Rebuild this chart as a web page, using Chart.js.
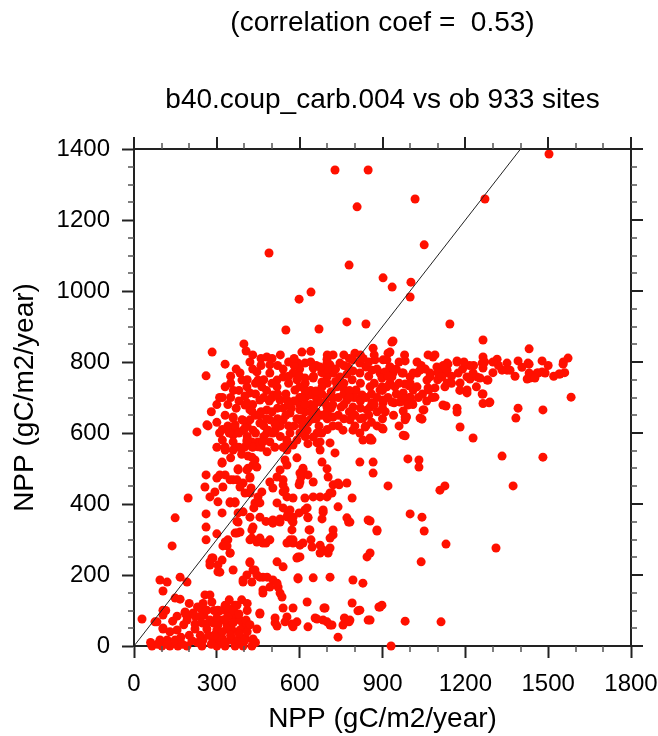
<!DOCTYPE html>
<html>
<head>
<meta charset="utf-8">
<script src="https://cdn.jsdelivr.net/npm/chart.js@4.4.1/dist/chart.umd.min.js"></script>
<style>
    html, body { margin: 0; padding: 0; background: #fff; }
    #wrap { width: 658px; height: 736px; position: relative; }
</style>
</head>
<body>
<div id="wrap"><canvas id="npp-chart"></canvas></div>
<script>
const chartTitle = '(correlation coef =  0.53)';
const chartSubtitle = 'b40.coup_carb.004 vs ob 933 sites';
const axisTitle = 'NPP (gC/m2/year)';

const xRange = [0, 1800];
const yRange = [0, 1400];
const xMajorStep = 300, xMinorStep = 100;
const yMajorStep = 200, yMinorStep = 50;
const oneToOne = [0, 1400];

// [obs NPP, model NPP] per site
const sitePoints = [
    // outliers up top
    [728,1341],[848,1341],[808,1237],[489,1107],[779,1073],[902,1037],[935,1011],[1003,1025],[1000,983],
    [598,977],[641,997],[550,890],[670,893],[771,913],[840,907],[1503,1386],[1018,1259],[1271,1259],
    [1051,1130],[1144,907],
    // upper edge
    [398,851],[406,831],[283,828],[330,794],[261,761],[420,800],[608,828],[721,820],[800,825],[866,839],
    [934,856],[927,828],[1264,862],[1431,837],[1572,811],[1554,794],[938,859],[481,814],[492,792],[594,797],[619,797],
    // right band
    [1315,808],[1351,797],[1391,803],[1478,803],[1478,772],[1543,766],[1427,797],[1431,769],[1460,769],[1583,701],
    [1264,814],[1264,783],[1279,749],[1206,758],[1170,803],[1137,794],[1126,769],[1174,769],[1181,741],[1206,721],
    [1217,752],[1242,758],[1351,777],[1333,777],[1424,752],[1434,755],[1065,820],[1083,814],[1025,800],[982,803],
    [1097,786],[1072,769],[1108,769],[1061,749],[1025,769],[1011,727],[1065,727],[1090,727],[1000,758],[975,769],
    [927,786],[938,769],[927,741],[891,769],[898,730],[902,806],[920,825],[873,806],[975,713],[1000,701],
    [1362,777],[1431,794],[1463,769],[1489,769],[1452,755],[1539,766],[1481,665],[1391,670],[1383,642],[1261,797],
    [1228,769],[1282,749],[1253,755],[1134,741],[1134,777],[1170,800],[1134,797],[1261,710],[1289,687],[1130,676],
    [1170,670],[1170,659],[1181,617],[1228,586],[1333,535],[1481,532],[1373,451],[1311,276],[1286,685],[1264,710],
    [1206,713],[1090,701],[1050,665],[1043,639],[982,637],[982,592],[902,611],[862,580],[866,518],[866,487],
    [992,527],[1032,524],[1032,504],[920,451],[1108,439],[1126,451],[1000,372],[1043,363],[1051,324],[855,352],
    [880,324],[1130,287],[1040,237],[898,115],[887,110],[855,73],[982,70],[1112,68],[931,0],[855,262],
    [1011,721],[942,685],[902,685],[989,685],[1007,685],[975,662],[987,645],[855,673],
    [1040,790],[1055,780],[1120,790],[1150,760],[1190,780],[1230,790],[1300,770],[1320,790],[1380,760],[1405,785],
    [1500,790],[1520,760],[1560,770],[1180,720],[1100,750],[1150,740],[1240,730],[1270,800],[1300,800],[1215,790],
    [1195,800],[1555,800],[1264,683],[960,620],[940,650],[920,700],[950,710],[910,660],[1060,690],[1080,700],
    [1030,700],[1045,710],
    // centre blob
    [916,806],[927,786],[909,772],[898,755],[934,758],[916,730],[945,730],[891,721],[902,693],[934,687],
    [971,769],[1011,769],[1036,777],[1090,820],[1072,758],[1101,769],[1115,758],[1068,721],[1126,730],[1025,730],
    [996,733],[982,738],[1000,699],[963,687],[992,679],[1047,665],[1036,642],[982,645],[975,594],[898,614],
    [1119,679],[855,730],[826,707],[862,685],[844,665],[829,642],[837,617],[855,586],[793,608],[782,637],
    [757,608],[721,645],[793,673],[793,701],[771,693],[757,727],[735,730],[714,716],[692,685],[714,670],
    [750,673],[804,721],[818,769],[793,775],[771,766],[746,758],[721,769],[699,758],[710,792],[746,797],
    [775,786],[793,806],[818,797],[840,786],[862,777],[699,808],[688,780],
    [620,700],[640,720],[660,700],[680,710],[700,700],[720,700],[740,700],[760,710],[780,720],[800,700],
    [820,690],[840,700],[860,710],[880,700],[620,660],[640,680],[660,660],[680,650],[700,640],[720,620],
    [740,650],[760,640],[780,660],[800,650],[820,670],[850,650],[880,660],[900,640],[630,630],[650,640],
    [670,620],[700,610],[610,640],[600,680],[620,740],[650,760],[680,770],[700,740],[730,745],[760,740],
    [790,750],[820,740],[850,760],[870,740],[880,780],[850,800],[820,820],[780,810],[760,790],[730,780],
    [700,780],[660,790],[640,800],[600,780],[580,790],[560,800],[540,780],[520,790],[500,810],[460,790],[430,780],
    [600,700],[620,720],[640,660],[660,640],[680,600],[700,660],[720,680],[740,620],[760,680],[780,700],
    [800,620],[820,640],[840,620],[860,630],[870,680],[880,620],[900,670],[900,720],[920,760],[950,780],
    [960,740],[970,700],[1000,740],[1010,680],[960,800],[980,820],[870,820],[830,810],[760,820],[700,820],
    [640,830],[580,810],[530,820],[430,820],[460,810],
    // upper-left cluster
    [649,783],[674,786],[699,797],[384,769],[391,749],[445,772],[449,749],[492,769],[518,749],[540,758],
    [576,769],[619,755],[649,755],[681,744],[409,730],[420,713],[463,730],[518,730],[503,707],[529,693],
    [456,693],[402,704],[402,679],[420,665],[481,665],[554,693],[583,721],[608,701],[637,707],[659,718],
    [681,730],[674,687],[652,679],[699,673],[688,651],[601,665],[565,656],[540,637],[492,637],[456,628],
    [420,637],[391,637],[359,645],[366,614],[395,608],[431,608],[481,600],[511,608],[359,594],[359,575],
    [330,561],[420,575],[449,575],[492,575],[554,580],[565,600],[601,600],[627,608],[637,637],[601,637],
    [663,600],[663,572],[264,623],
    [470,750],[500,740],[440,740],[560,740],[590,750],[600,730],[550,710],[520,670],[460,660],[440,650],
    [500,700],[580,690],[620,680],[590,640],[560,620],[530,620],[470,620],[440,600],[410,590],[380,600],
    [400,560],[470,590],[530,590],[590,580],[620,590],[630,570],[540,560],[510,560],[580,620],[610,620],
    [650,650],[570,670],[540,670],[490,690],[430,680],[380,690],[380,720],[350,700],[370,670],[340,620],
    [310,600],[300,630],[330,650],[350,740],[370,780],[330,730],[310,700],[300,680],[280,660],[320,580],
    [350,530],[390,540],
    [300,560],[320,610],[345,600],[380,560],[410,620],[430,560],[460,560],[480,640],[500,660],[520,640],
    [550,650],[560,680],[470,700],[440,710],[410,750],[360,720],[340,680],[320,700],[350,760],[480,720],
    [520,710],[560,760],[600,760],[620,720],
    [228,603],[268,620],[359,642],[366,623],[402,614],[395,636],[409,580],[427,575],[449,561],[482,547],
    [467,575],[486,608],[503,600],[511,625],[409,685],[427,662],[456,651],[554,572],[576,566],[554,552],
    [649,589],[674,552],[818,600],[829,580],[855,580],[359,552],[330,552],[319,518],
    // middle band
    [261,482],[257,448],[275,420],[293,434],[304,406],[261,372],[261,335],[261,299],[319,515],[330,555],
    [300,473],[330,482],[348,468],[377,496],[413,501],[438,524],[413,535],[427,561],[409,575],[420,476],
    [395,459],[359,468],[348,406],[366,406],[402,431],[424,445],[438,403],[395,378],[319,375],[377,349],
    [384,321],[366,318],[427,327],[420,299],[340,299],[322,282],[275,237],[282,248],[300,316],[330,293],
    [337,282],[311,208],[319,242],[359,214],[348,262],[373,318],[373,351],[377,375],[366,403],[348,403],
    [322,448],[311,482],[373,468],[384,448],[377,499],[409,496],[420,473],[427,532],[431,510],[420,431],
    [449,420],[456,403],[434,389],[420,363],[431,335],[427,304],[445,293],[467,290],[478,290],[420,237],
    [431,214],[409,200],[395,180],[427,180],[456,194],[467,158],[554,510],[547,524],[529,496],[518,476],
    [540,454],[547,440],[554,420],[503,445],[492,462],[518,403],[540,389],[558,375],[576,363],[598,375],
    [576,349],[529,358],[503,346],[478,351],[565,299],[576,290],[554,290],[601,284],[612,290],[645,279],
    [674,284],[685,270],[710,276],[710,304],[721,313],[674,262],[703,262],[601,251],[594,251],[594,192],
    [649,192],[710,194],[793,186],[829,177],[844,251],[848,355],[880,327],[771,361],[782,349],[739,392],
    [699,420],[674,420],[649,420],[619,417],[627,389],[630,361],[634,327],[685,383],[710,431],[721,454],
    [743,454],[771,459],[703,476],[699,499],[681,518],[612,496],[605,476],[598,454],[818,518],[630,482],
    [649,462],[739,459],[717,431],[790,417],[576,417],[601,487],[612,501],[601,462],[590,530],[728,544],
    [674,575],[710,572],[445,504],[540,468],[540,434],[565,383],[554,364],[571,355],[572,327],[619,383],
    [630,363],[685,377],[681,358],[777,349],[721,327],[637,327],[641,299],[576,299],[492,299],[456,304],
    [503,355],[456,363],[529,349],[463,434],[138,282],[149,361],[196,417],
    // lower part
    [29,76],[83,68],[105,87],[105,51],[94,186],[120,180],[105,155],[167,194],[192,180],[149,135],
    [167,132],[156,45],[185,96],[192,84],[214,93],[221,84],[246,101],[253,87],[275,73],[261,62],
    [221,62],[257,144],[275,144],[282,124],[304,101],[330,115],[366,115],[337,96],[366,84],[391,68],
    [395,54],[337,59],[304,59],[319,22],[359,17],[402,22],[445,48],[456,90],[467,149],[503,186],
    [522,166],[529,149],[540,107],[511,79],[511,65],[554,82],[576,107],[590,68],[572,62],[627,124],
    [630,54],[594,189],[656,79],[692,107],[699,68],[717,59],[739,25],[757,59],[762,79],[779,68],
    [790,121],[818,101],[848,73],[891,110],[275,228],[286,248],[304,228],[304,209],[348,262],[395,186],
    [420,234],[438,214],[467,194],[518,237],[540,223],[590,248],[492,166],[445,200],[518,177],[482,194],
    [536,138],[576,54],[547,68],[518,56],[663,76],[685,73],[710,59],[688,107],[782,73],[811,99],
    [65,0],[101,0],[130,0],[159,0],[192,0],[246,0],[300,0],[330,0],[366,0],[395,0],
    [427,0],[94,17],[120,17],[149,17],[250,17],[286,17],[311,17],[348,17],[377,17],[402,17],
    [431,17],[76,68],[105,101],[105,48],[156,84],[185,93],[192,73],[239,82],[246,65],[264,101],
    [221,48],[264,48],[286,65],[300,45],[311,25],[337,110],[373,115],[366,93],[340,82],[311,99],
    [322,73],[359,65],[384,73],[355,45],[337,48],[384,45],[406,73],[431,20],[456,93],
    [290,30],[320,40],[350,30],[380,35],[410,40],[270,30],[240,30],[200,30],[170,25],[230,110],
    [300,80],[330,75],[360,100],[380,90],[410,100],[420,60],[290,100],[250,120],[200,120],[180,60],
    [140,70],[130,40],[115,100],[345,130],[390,130],[410,120],[230,10],[210,15],[440,10],[330,10],
    [280,5],[120,5],[85,5],[60,10],[175,5]
];

const axisFont = { family: "'Liberation Sans', Arial, sans-serif", size: 24 };
const titleFont = "28px 'Liberation Sans', Arial, sans-serif";

// minor ticks + mirrored ticks on top/right, NCL style frame
const frameTicks = {
    id: 'frameTicks',
    afterDraw(chart) {
        const { ctx, chartArea: a, scales: { x, y } } = chart;
        ctx.save();
        ctx.strokeStyle = '#222';
        ctx.lineWidth = 2;
        ctx.beginPath();
        ctx.moveTo(a.left, a.top);
        ctx.lineTo(a.right, a.top);
        ctx.lineTo(a.right, a.bottom);
        ctx.stroke();

        for (let v = xRange[0]; v <= xRange[1]; v += xMinorStep) {
            const px = Math.round(x.getPixelForValue(v));
            const major = v % xMajorStep === 0;
            const len = major ? 12 : 6;
            ctx.lineWidth = major ? 2 : 1.5;
            ctx.strokeStyle = major ? '#222' : '#555';
            ctx.beginPath();
            ctx.moveTo(px, a.top);
            ctx.lineTo(px, a.top - len);
            if (!major) {
                ctx.moveTo(px, a.bottom);
                ctx.lineTo(px, a.bottom + len);
            }
            ctx.stroke();
        }
        for (let v = yRange[0]; v <= yRange[1]; v += yMinorStep) {
            const py = Math.round(y.getPixelForValue(v));
            const major = v % yMajorStep === 0;
            const len = major ? 12 : 6;
            ctx.lineWidth = major ? 2 : 1.5;
            ctx.strokeStyle = major ? '#222' : '#555';
            ctx.beginPath();
            ctx.moveTo(a.right, py);
            ctx.lineTo(a.right + len, py);
            if (!major) {
                ctx.moveTo(a.left, py);
                ctx.lineTo(a.left - len, py);
            }
            ctx.stroke();
        }

        // titles
        const cx = (a.left + a.right) / 2;
        ctx.fillStyle = '#000';
        ctx.font = titleFont;
        ctx.textAlign = 'center';
        ctx.textBaseline = 'alphabetic';
        ctx.fillText(chartTitle, cx, 31);
        ctx.fillText(chartSubtitle, cx, 108);
        ctx.restore();
    }
};

const plainNumber = v => String(v);

const ctx = document.getElementById('npp-chart').getContext('2d');
new Chart(ctx, {
    type: 'scatter',
    data: {
        datasets: [{
            label: '1:1',
            data: [{ x: oneToOne[0], y: oneToOne[0] }, { x: oneToOne[1], y: oneToOne[1] }],
            showLine: true,
            borderColor: '#222',
            borderWidth: 1,
            pointRadius: 0,
            order: 0
        }, {
            label: 'sites',
            data: sitePoints.map(p => ({ x: p[0], y: p[1] })),
            backgroundColor: '#ff1000',
            borderWidth: 0,
            pointRadius: 4.5,
            clip: false,
            order: 1
        }]
    },
    options: {
        responsive: true,
        maintainAspectRatio: false,
        animation: false,
        layout: { padding: { top: 149, right: 27, left: 0, bottom: 0 } },
        scales: {
            x: {
                type: 'linear',
                min: xRange[0],
                max: xRange[1],
                afterFit: s => { s.height = 90; s.paddingLeft = 0; s.paddingRight = 0; },
                ticks: { stepSize: xMajorStep, color: '#000', font: axisFont, padding: 12, maxRotation: 0, callback: plainNumber },
                grid: { drawOnChartArea: false, drawTicks: true, tickLength: 12, tickWidth: 2, tickColor: '#222' },
                border: { color: '#222', width: 2 },
                title: { display: true, text: axisTitle, color: '#000', font: { family: axisFont.family, size: 28 }, padding: { top: 0, bottom: 0 } }
            },
            y: {
                type: 'linear',
                min: yRange[0],
                max: yRange[1],
                afterFit: s => { s.width = 134; s.paddingTop = 0; s.paddingBottom = 0; },
                ticks: { stepSize: yMajorStep, color: '#000', font: axisFont, padding: 12, callback: plainNumber },
                grid: { drawOnChartArea: false, drawTicks: true, tickLength: 12, tickWidth: 2, tickColor: '#222' },
                border: { color: '#222', width: 2 },
                title: { display: true, text: axisTitle, color: '#000', font: { family: axisFont.family, size: 28 }, padding: { top: 8, bottom: 0 } }
            }
        },
        plugins: {
            legend: { display: false },
            tooltip: { enabled: false }
        }
    },
    plugins: [frameTicks]
});
</script>
</body>
</html>
